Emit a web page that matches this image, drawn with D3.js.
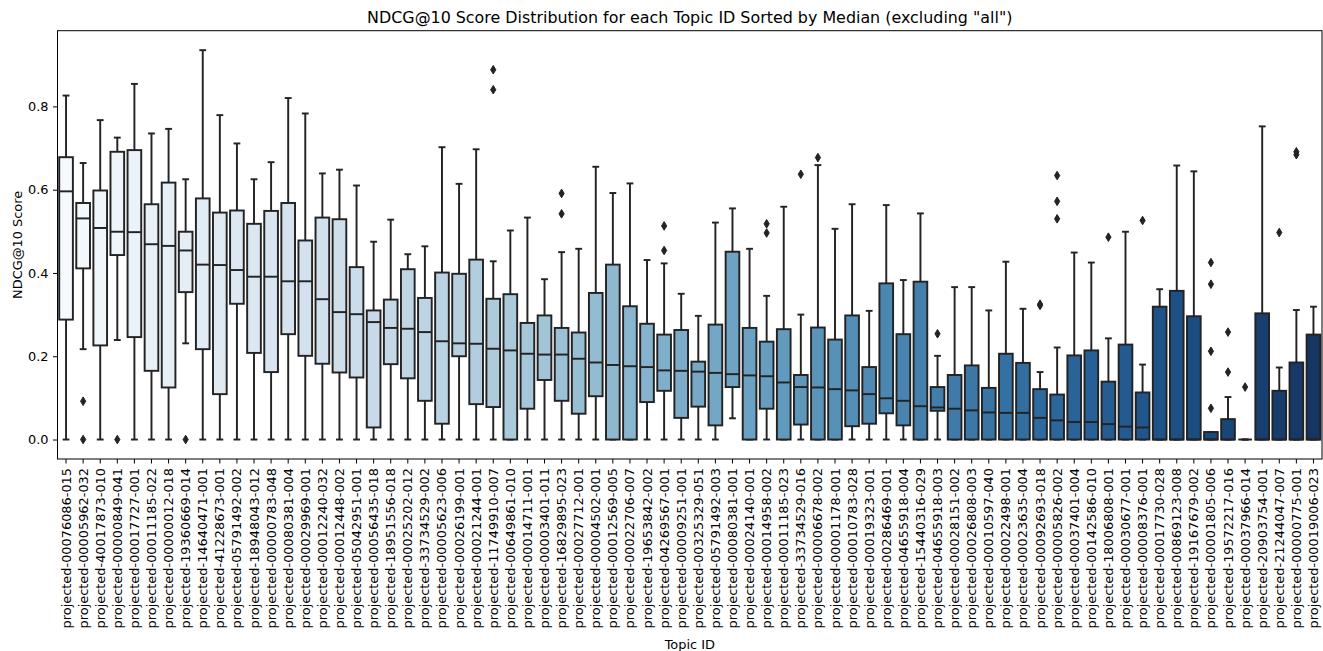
<!DOCTYPE html>
<html>
<head>
<meta charset="utf-8">
<script src="https://cdn.jsdelivr.net/npm/d3@7"></script>
<style>
  body { margin: 0; background: #fff; }
  svg { font-family: "DejaVu Sans", sans-serif; }
</style>
</head>
<body>
<div id="chart"></div>
<script>
"use strict";

// == DATA ==
var topics = [
  "projected-00076086-015", "projected-00005962-032", "projected-40017873-010", "projected-00000849-041",
  "projected-00017727-001", "projected-00011185-022", "projected-00000012-018", "projected-19360669-014",
  "projected-14640471-001", "projected-41228673-001", "projected-05791492-002", "projected-18948043-012",
  "projected-00000783-048", "projected-00080381-004", "projected-00029969-001", "projected-00012240-032",
  "projected-00012448-002", "projected-05042951-001", "projected-00056435-018", "projected-18951556-018",
  "projected-00025202-012", "projected-33734529-002", "projected-00005623-006", "projected-00026199-001",
  "projected-00021244-001", "projected-11749910-007", "projected-00649861-010", "projected-00014711-001",
  "projected-00003401-011", "projected-16829895-023", "projected-00027712-001", "projected-00004502-001",
  "projected-00012569-005", "projected-00022706-007", "projected-19653842-002", "projected-04269567-001",
  "projected-00009251-001", "projected-00325329-051", "projected-05791492-003", "projected-00080381-001",
  "projected-00024140-001", "projected-00014958-002", "projected-00011185-023", "projected-33734529-016",
  "projected-00006678-002", "projected-00001178-001", "projected-00010783-028", "projected-00019323-001",
  "projected-00286469-001", "projected-04655918-004", "projected-15440316-029", "projected-04655918-003",
  "projected-00028151-002", "projected-00026808-003", "projected-00010597-040", "projected-00022498-001",
  "projected-00023635-004", "projected-00092693-018", "projected-00005826-002", "projected-00037401-004",
  "projected-00142586-010", "projected-18006808-001", "projected-00030677-001", "projected-00008376-001",
  "projected-00017730-028", "projected-00869123-008", "projected-19167679-002", "projected-00001805-006",
  "projected-19572217-016", "projected-00037966-014", "projected-20903754-001", "projected-21244047-007",
  "projected-00000775-001", "projected-00019006-023"
];

var whiskerLow = [
  0, 0.217, 0, 0.239, 0, 0, 0, 0.231, 0, 0, 0, 0, 0, 0, 0, 0, 0, 0, 0, 0,
  0, 0, 0, 0, 0, 0, 0, 0, 0, 0, 0, 0, 0, 0, 0, 0, 0, 0, 0, 0.051,
  0, 0, 0, 0, 0, 0, 0, 0, 0, 0, 0, 0, 0, 0, 0, 0, 0, 0, 0, 0,
  0, 0, 0, 0, 0, 0, 0, 0, 0, 0, 0, 0, 0, 0
];

var q1 = [
  0.288, 0.411, 0.226, 0.443, 0.246, 0.165, 0.125, 0.354, 0.217, 0.109,
  0.326, 0.208, 0.162, 0.253, 0.201, 0.182, 0.161, 0.149, 0.029, 0.181,
  0.147, 0.093, 0.038, 0.200, 0.085, 0.078, 0, 0.074, 0.143, 0.093,
  0.062, 0.104, 0, 0, 0.090, 0.117, 0.052, 0.079, 0.034, 0.126,
  0, 0.074, 0, 0.036, 0, 0, 0.032, 0.038, 0.063, 0.034,
  0, 0.069, 0, 0, 0, 0, 0, 0, 0, 0,
  0, 0, 0, 0, 0, 0, 0, 0, 0, 0,
  0, 0, 0, 0
];

var median = [
  0.596, 0.531, 0.508, 0.499, 0.498, 0.469, 0.465, 0.454, 0.420, 0.419,
  0.407, 0.391, 0.391, 0.380, 0.380, 0.337, 0.306, 0.301, 0.282, 0.268,
  0.266, 0.258, 0.236, 0.231, 0.230, 0.218, 0.214, 0.206, 0.204, 0.204,
  0.194, 0.185, 0.179, 0.176, 0.174, 0.166, 0.165, 0.163, 0.160, 0.157,
  0.154, 0.152, 0.137, 0.126, 0.125, 0.121, 0.118, 0.109, 0.099, 0.093,
  0.080, 0.077, 0.074, 0.070, 0.065, 0.064, 0.064, 0.052, 0.046, 0.042,
  0.042, 0.037, 0.031, 0.029, 0, 0, 0, 0, 0, 0,
  0, 0, 0, 0
];

var q3 = [
  0.678, 0.568, 0.598, 0.691, 0.695, 0.565, 0.617, 0.499, 0.579, 0.545,
  0.550, 0.518, 0.549, 0.568, 0.478, 0.533, 0.529, 0.414, 0.310, 0.336,
  0.409, 0.340, 0.401, 0.398, 0.432, 0.338, 0.349, 0.280, 0.298, 0.268,
  0.257, 0.352, 0.420, 0.320, 0.278, 0.252, 0.263, 0.187, 0.276, 0.451,
  0.268, 0.235, 0.265, 0.155, 0.269, 0.240, 0.298, 0.174, 0.375, 0.253,
  0.379, 0.126, 0.155, 0.178, 0.124, 0.206, 0.184, 0.121, 0.108, 0.202,
  0.214, 0.139, 0.228, 0.113, 0.319, 0.357, 0.296, 0.018, 0.049, 0,
  0.303, 0.117, 0.185, 0.252
];

var whiskerHigh = [
  0.826, 0.664, 0.767, 0.725, 0.854, 0.735, 0.746, 0.625, 0.935, 0.779,
  0.711, 0.625, 0.666, 0.820, 0.783, 0.639, 0.648, 0.610, 0.475, 0.528,
  0.445, 0.464, 0.702, 0.614, 0.697, 0.428, 0.502, 0.533, 0.385, 0.450,
  0.458, 0.655, 0.592, 0.615, 0.431, 0.423, 0.350, 0.297, 0.521, 0.555,
  0.458, 0.345, 0.559, 0.300, 0.659, 0.506, 0.565, 0.309, 0.563, 0.383,
  0.543, 0.201, 0.366, 0.366, 0.310, 0.427, 0.314, 0.162, 0.221, 0.449,
  0.425, 0.243, 0.499, 0.180, 0.361, 0.658, 0.644, 0.018, 0.102, 0,
  0.752, 0.173, 0.311, 0.319
];

var fliers = [
  [], [0.092, 0], [], [0], [], [], [], [0], [], [],
  [], [], [], [], [], [], [], [], [], [],
  [], [], [], [], [], [0.888, 0.840], [], [], [], [0.591, 0.542],
  [], [], [], [], [], [0.513, 0.454], [], [], [], [],
  [], [0.518, 0.496], [], [0.637], [0.677], [], [], [], [], [],
  [], [0.254], [], [], [], [], [], [0.325, 0.322], [0.634, 0.572, 0.530], [],
  [], [0.486], [], [0.526], [], [], [], [0.425, 0.373, 0.212, 0.075], [0.258, 0.162], [0.126],
  [], [0.497], [0.691, 0.684], []
];

var yTicks = [0, 0.2, 0.4, 0.6, 0.8];

// == BOILERPLATE ==
var margin = { top: 30.7, right: 1, bottom: 192, left: 57.5 },
    width = 1323 - margin.left - margin.right,
    height = 651 - margin.top - margin.bottom;

var gray = "#232323",
    lw = 1.94;

var svg = d3.select("#chart")
  .append("svg")
  .attr("width", 1323)
  .attr("height", 651)
  .append("g")
  .attr("transform", "translate(" + margin.left + "," + margin.top + ")");

var rows = topics.map(function (t, i) {
  return { topic: t, lo: whiskerLow[i], q1: q1[i], med: median[i], q3: q3[i], hi: whiskerHigh[i], out: fliers[i], i: i };
});

// == SCALES ==
var x = d3.scaleBand()
  .domain(topics)
  .range([0, width])
  .paddingInner(0.2)
  .paddingOuter(0.1);

var yMax = d3.max(rows, function (d) { return d3.max([d.hi].concat(d.out)); });
var pad = yMax * 0.05;
var y = d3.scaleLinear()
  .domain([-pad, yMax + pad])
  .range([height, 0]);

// seaborn "Blues" palette, desaturated a bit like boxplot does
var color = function (i) {
  var c = d3.hsl(d3.interpolateBlues((i + 1) / (topics.length + 1)));
  c.s = c.s * 0.75;
  return c.formatHex();
};

// == AXES ==
var yAxis = svg.append("g")
  .call(d3.axisLeft(y).tickValues(yTicks).tickFormat(d3.format(".1f")).tickSize(4.5).tickSizeOuter(0).tickPadding(4.5));
yAxis.select(".domain").remove();
yAxis.selectAll("line").attr("stroke", "#000").attr("stroke-width", 1);
yAxis.selectAll("text").attr("font-size", "12.9px").attr("fill", "#000")
  .attr("font-family", "DejaVu Sans");

var xAxis = svg.append("g")
  .attr("transform", "translate(0," + height + ")")
  .call(d3.axisBottom(x).tickSize(4.5).tickSizeOuter(0));
xAxis.select(".domain").remove();
xAxis.selectAll("line").attr("stroke", "#000").attr("stroke-width", 1);
xAxis.selectAll("text")
  .attr("font-size", "12.9px")
  .attr("fill", "#000")
  .attr("font-family", "DejaVu Sans")
  .attr("x", -9)
  .attr("y", 0)
  .attr("dy", "0.35em")
  .attr("transform", "rotate(-90)")
  .style("text-anchor", "end");

// == BOXES ==
var bw = x.bandwidth();

var box = svg.selectAll(".box")
  .data(rows)
  .enter()
  .append("g")
  .attr("class", "box")
  .attr("transform", function (d) { return "translate(" + x(d.topic) + ",0)"; });

// whiskers
box.append("line")
  .attr("x1", bw / 2).attr("x2", bw / 2)
  .attr("y1", function (d) { return y(d.q1); })
  .attr("y2", function (d) { return y(d.lo); })
  .attr("stroke", gray).attr("stroke-width", lw);
box.append("line")
  .attr("x1", bw / 2).attr("x2", bw / 2)
  .attr("y1", function (d) { return y(d.q3); })
  .attr("y2", function (d) { return y(d.hi); })
  .attr("stroke", gray).attr("stroke-width", lw);

// caps
box.append("line")
  .attr("x1", bw / 4).attr("x2", bw * 3 / 4)
  .attr("y1", function (d) { return y(d.lo); })
  .attr("y2", function (d) { return y(d.lo); })
  .attr("stroke", gray).attr("stroke-width", lw);
box.append("line")
  .attr("x1", bw / 4).attr("x2", bw * 3 / 4)
  .attr("y1", function (d) { return y(d.hi); })
  .attr("y2", function (d) { return y(d.hi); })
  .attr("stroke", gray).attr("stroke-width", lw);

// box body
box.append("rect")
  .attr("x", 0)
  .attr("width", bw)
  .attr("y", function (d) { return y(d.q3); })
  .attr("height", function (d) { return y(d.q1) - y(d.q3); })
  .attr("fill", function (d) { return color(d.i); })
  .attr("stroke", gray)
  .attr("stroke-width", lw);

// median
box.append("line")
  .attr("x1", 0).attr("x2", bw)
  .attr("y1", function (d) { return y(d.med); })
  .attr("y2", function (d) { return y(d.med); })
  .attr("stroke", gray).attr("stroke-width", lw);

// fliers (thin diamonds)
var dh = 4.3, dw = 2.6;
box.selectAll(".flier")
  .data(function (d) { return d.out; })
  .enter()
  .append("path")
  .attr("class", "flier")
  .attr("d", function (v) {
    var cx = bw / 2, cy = y(v);
    return "M" + cx + "," + (cy - dh) + "L" + (cx + dw) + "," + cy + "L" + cx + "," + (cy + dh) + "L" + (cx - dw) + "," + cy + "Z";
  })
  .attr("fill", gray)
  .attr("stroke", gray)
  .attr("stroke-width", 1);

// == FRAME ==
svg.append("rect")
  .attr("x", 0).attr("y", 0)
  .attr("width", width).attr("height", height)
  .attr("fill", "none")
  .attr("stroke", "#000")
  .attr("stroke-width", 1);

// == LABELS ==
svg.append("text")
  .attr("x", width / 2)
  .attr("y", -8)
  .attr("text-anchor", "middle")
  .attr("font-size", "15.9px")
  .attr("fill", "#000")
  .text("NDCG@10 Score Distribution for each Topic ID Sorted by Median (excluding \"all\")");

svg.append("text")
  .attr("x", width / 2)
  .attr("y", 649.5 - margin.top)
  .attr("text-anchor", "middle")
  .attr("font-size", "12.9px")
  .attr("fill", "#000")
  .text("Topic ID");

svg.append("text")
  .attr("transform", "translate(" + (21.5 - margin.left) + "," + (height / 2) + ") rotate(-90)")
  .attr("text-anchor", "middle")
  .attr("font-size", "12.9px")
  .attr("fill", "#000")
  .text("NDCG@10 Score");
</script>
</body>
</html>
